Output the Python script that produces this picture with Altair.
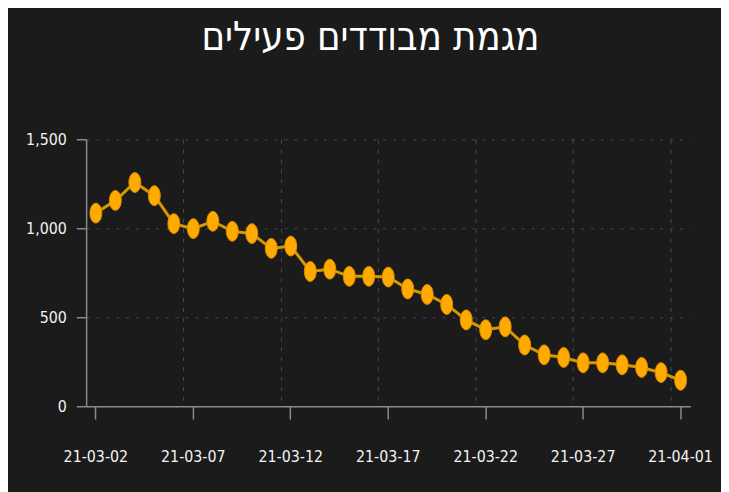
import altair as alt
import pandas as pd

dates = ["21-03-02", "21-03-03", "21-03-04", "21-03-05", "21-03-06", "21-03-07",
         "21-03-08", "21-03-09", "21-03-10", "21-03-11", "21-03-12", "21-03-13",
         "21-03-14", "21-03-15", "21-03-16", "21-03-17", "21-03-18", "21-03-19",
         "21-03-20", "21-03-21", "21-03-22", "21-03-23", "21-03-24", "21-03-25",
         "21-03-26", "21-03-27", "21-03-28", "21-03-29", "21-03-30", "21-03-31",
         "21-04-01"]
values = [1085, 1156, 1257, 1183, 1026, 998, 1039, 983, 970, 887, 900, 757,
          770, 730, 730, 726, 659, 628, 572, 485, 430, 446, 344, 289, 274,
          244, 244, 233, 218, 189, 146]
x_tick_labels = ["21-03-02", "21-03-07", "21-03-12", "21-03-17", "21-03-22",
                 "21-03-27", "21-04-01"]
y_ticks = [0, 500, 1000, 1500]
title_text = "מגמת מבודדים פעילים"

FONT = "'DejaVu Sans Condensed', 'Liberation Sans Narrow', 'Liberation Sans', sans-serif"
BG = "#1b1b1b"
AXIS_COL = "#8a8a8a"
GRID_COL = "#4a4a4a"
TEXT_COL = "#f2f2f2"
ELLIPSE = "M-0.6,0A0.6,1,0,1,0,0.6,0A0.6,1,0,1,0,-0.6,0Z"

df = pd.DataFrame({"date": dates, "value": values})

xscale = alt.Scale(type="band", paddingInner=0, paddingOuter=0, domain=dates)
yscale = alt.Scale(domain=[0, 1500], nice=False)


def yaxis():
    return alt.Axis(values=y_ticks, format=",d", grid=True, gridDash=[3, 7],
                    gridColor=GRID_COL, gridWidth=1, domainColor=AXIS_COL,
                    domainWidth=1.5, tickColor=AXIS_COL, tickWidth=1.5,
                    tickSize=10, labelPadding=10, labelColor=TEXT_COL,
                    labelFont=FONT, labelFontSize=16, title=None)


line = alt.Chart(df).mark_line(color="#d49a00", strokeWidth=3).encode(
    x=alt.X("date:O", scale=xscale, sort=None,
            axis=alt.Axis(orient="bottom", grid=True, bandPosition=0,
                          gridDash=[4, 6], gridColor=GRID_COL, gridWidth=1,
                          labels=False, ticks=False, domain=False, title=None,
                          values=x_tick_labels)),
    y=alt.Y("value:Q", scale=yscale, axis=yaxis()),
)

points = alt.Chart(df).mark_point(shape=ELLIPSE, size=400, filled=True,
                                  fill="#ffaa00", stroke="#e08e00",
                                  strokeWidth=1, opacity=1).encode(
    x=alt.X("date:O", scale=xscale, sort=None,
            axis=alt.Axis(orient="bottom", grid=False, bandPosition=0.5,
                          values=x_tick_labels, labelAngle=0,
                          domainColor=AXIS_COL, domainWidth=1.5,
                          tickColor=AXIS_COL, tickWidth=1.5, tickSize=13,
                          labelPadding=30, labelColor=TEXT_COL,
                          labelFont=FONT, labelFontSize=16, title=None)),
    y=alt.Y("value:Q", scale=yscale, axis=yaxis()),
)

chart = alt.layer(line, points).resolve_axis(x="independent").properties(
    width=611,
    height=270,
    autosize=alt.AutoSizeParams(type="none"),
    padding={"left": 79, "top": 130, "right": 31, "bottom": 84},
    background=BG,
    title=alt.TitleParams(text=title_text, font=FONT, fontSize=40,
                          fontWeight="normal", color="#ffffff",
                          anchor="middle", dx=-18, offset=74),
).configure_view(stroke=None)

chart.save("out.html", embed_options={"renderer": "svg", "actions": False})
